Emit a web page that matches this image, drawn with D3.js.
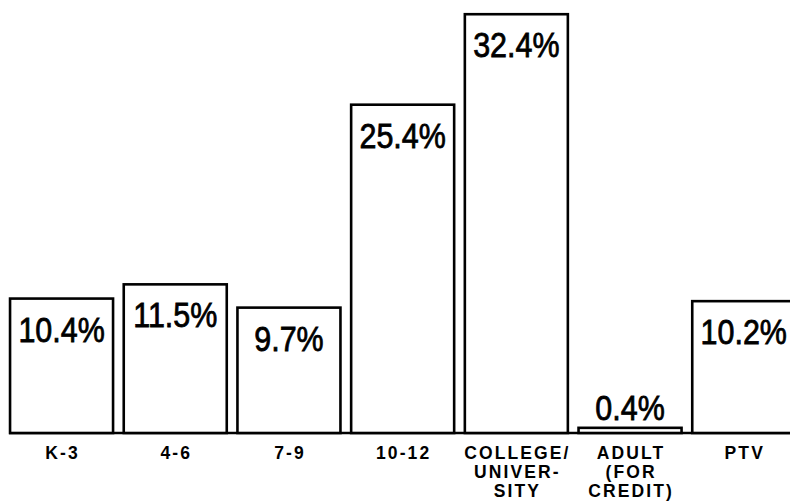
<!DOCTYPE html>
<html>
<head>
<meta charset="utf-8">
<script src="https://cdn.jsdelivr.net/npm/d3@7"></script>
<style>
  html, body { margin: 0; padding: 0; background: #fff; }
  svg { display: block; }
</style>
</head>
<body>
<svg id="chart" width="790" height="503"></svg>
<script>
// Share of enrolment by level (percent)
const categories = ["K-3", "4-6", "7-9", "10-12", "COLLEGE/\nUNIVER-\nSITY", "ADULT\n(FOR\nCREDIT)", "PTV"];
const values = [10.4, 11.5, 9.7, 25.4, 32.4, 0.4, 10.2];
const valueLabels = ["10.4%", "11.5%", "9.7%", "25.4%", "32.4%", "0.4%", "10.2%"];

const W = 790, H = 503;
const baseY = 433;
const svg = d3.select("#chart");

const x = d3.scaleBand()
  .domain(categories)
  .range([4.7, 800.6])
  .paddingInner(0.094)
  .paddingOuter(0.047);

const y = d3.scaleLinear()
  .domain([0, 33.5])
  .range([baseY, 0]);

const rows = categories.map((c, i) => ({ c, v: values[i], label: valueLabels[i] }));

// baseline
svg.append("line")
  .attr("x1", 9).attr("x2", W)
  .attr("y1", baseY).attr("y2", baseY)
  .attr("stroke", "#000").attr("stroke-width", 2.6);

// outlined bars
svg.selectAll("rect.bar")
  .data(rows)
  .join("rect")
  .attr("class", "bar")
  .attr("x", d => x(d.c))
  .attr("y", d => y(d.v))
  .attr("width", x.bandwidth())
  .attr("height", d => y(0) - y(d.v))
  .attr("fill", "#fff")
  .attr("stroke", "#000")
  .attr("stroke-width", 2.6);

// value labels: inside the bar top, or above very short bars
svg.selectAll("text.val")
  .data(rows)
  .join("text")
  .attr("class", "val")
  .attr("transform", d => {
    const cx = x(d.c) + x.bandwidth() / 2;
    const ty = (y(0) - y(d.v)) > 60 ? y(d.v) + 43 : y(d.v) - 8;
    return `translate(${cx},${ty}) scale(0.87,1)`;
  })
  .attr("text-anchor", "middle")
  .attr("font-family", "'Liberation Sans', Arial, sans-serif")
  .attr("font-size", 35)
  .attr("fill", "#000")
  .attr("stroke", "#000")
  .attr("stroke-width", 0.8)
  .text(d => d.label);

// category labels beneath the baseline
const labelX = d => x(d.c) + x.bandwidth() / 2 + 1;
const cat = svg.selectAll("text.cat")
  .data(rows)
  .join("text")
  .attr("class", "cat")
  .attr("y", 459)
  .attr("text-anchor", "middle")
  .attr("font-family", "'Liberation Sans', Arial, sans-serif")
  .attr("font-weight", "bold")
  .attr("font-size", 17.5)
  .attr("letter-spacing", 2.1)
  .attr("fill", "#000");

cat.selectAll("tspan")
  .data(d => d.c.split("\n").map(t => ({ t, cx: labelX(d) })))
  .join("tspan")
  .attr("x", d => d.cx)
  .attr("dy", (d, i) => i === 0 ? 0 : 19)
  .text(d => d.t);
</script>
</body>
</html>
